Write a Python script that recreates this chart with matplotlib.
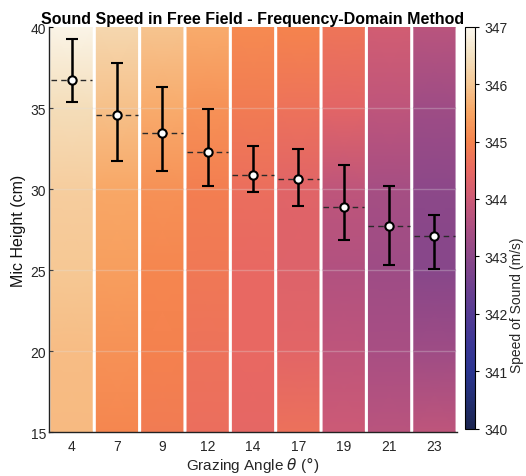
import numpy as np
import matplotlib
matplotlib.use("Agg")
import matplotlib.pyplot as plt
from matplotlib.colors import LinearSegmentedColormap

plt.rcParams['font.family'] = ['Liberation Sans', 'DejaVu Sans']

# grazing angles (deg) and mic height estimates (cm)
angles = [4, 7, 9, 12, 14, 17, 19, 21, 23]
height_mean = [36.73, 34.57, 33.44, 32.28, 30.86, 30.62, 28.91, 27.74, 27.10]
height_upper = [39.24, 37.78, 36.32, 34.94, 32.67, 32.45, 31.50, 30.17, 28.40]
height_lower = [35.39, 31.73, 31.11, 30.19, 29.80, 28.95, 26.87, 25.33, 25.06]

# speed of sound profile per angle, sampled at these heights
profile_heights = [15, 20, 25, 30, 35, 40]
c_4 = [345.80, 345.85, 346.00, 346.10, 346.40, 346.90]
c_7 = [345.05, 345.20, 345.40, 345.55, 345.90, 346.30]
c_9 = [344.85, 344.95, 345.05, 345.20, 345.60, 345.95]
c_12 = [344.60, 344.70, 344.80, 344.90, 345.20, 345.60]
c_14 = [344.45, 344.50, 344.50, 344.60, 344.85, 345.10]
c_17 = [344.65, 344.40, 344.30, 344.35, 344.70, 345.00]
c_19 = [344.00, 343.80, 343.60, 343.80, 344.40, 344.75]
c_21 = [343.70, 343.45, 343.30, 343.40, 343.80, 344.10]
c_23 = [343.80, 343.30, 342.90, 343.00, 343.30, 343.70]
profiles = [c_4, c_7, c_9, c_12, c_14, c_17, c_19, c_21, c_23]

cmap_colors = ['#1b2550', '#232f72', '#2b3591', '#3d3896', '#553c94', '#70418f',
               '#8c4889', '#ab4f82', '#cc5a76', '#e86862', '#f5834d', '#f8a462',
               '#f6c793', '#f4e1c0', '#fbf8ef']
cmap = LinearSegmentedColormap.from_list('sound', cmap_colors)
vmin, vmax = 340, 347

fig = plt.figure(figsize=(5.26, 4.77), dpi=100)
ax = fig.add_axes([0.093, 0.092, 0.776, 0.849])
cax = fig.add_axes([0.884, 0.099, 0.019, 0.843])

half_w = 0.455
for i, prof in enumerate(profiles):
    xc = i + 1
    X, Y = np.meshgrid([xc - half_w, xc + half_w], profile_heights)
    C = np.column_stack([prof, prof])
    mesh = ax.pcolormesh(X, Y, C, cmap=cmap, vmin=vmin, vmax=vmax,
                         shading='gouraud', zorder=1)

for yv in [20, 25, 30, 35]:
    ax.axhline(yv, color='#e0e0e0', lw=1.0, alpha=0.3, zorder=2)

xs = np.arange(1, len(angles) + 1)
mean = np.array(height_mean)
yerr = [mean - np.array(height_lower), np.array(height_upper) - mean]
for xc, m in zip(xs, mean):
    ax.plot([xc - half_w, xc + half_w], [m, m], ls=(0, (4, 3)), color='#2a2a2a',
            lw=1.0, zorder=3)
ax.errorbar(xs, mean, yerr=yerr, fmt='o', color='black', ecolor='black',
            elinewidth=1.8, capsize=4, capthick=1.8, markersize=6,
            markerfacecolor='white', markeredgecolor='black',
            markeredgewidth=1.5, zorder=4)

ax.set_xlim(0.5, 9.5)
ax.set_ylim(15, 40)
ax.set_xticks(xs)
ax.set_xticklabels([str(a) for a in angles])
ax.set_yticks([15, 20, 25, 30, 35, 40])
ax.tick_params(axis='x', length=0, labelsize=10, labelcolor='#262626', pad=5)
ax.tick_params(axis='y', direction='in', length=3, labelsize=10,
               labelcolor='#262626', pad=2)
for s in ['top', 'right']:
    ax.spines[s].set_visible(False)
for s in ['left', 'bottom']:
    ax.spines[s].set_linewidth(1.0)
    ax.spines[s].set_color('#222222')

ax.set_xlabel(r'Grazing Angle $\theta$ ($\degree$)', fontsize=11, color='#262626',
              labelpad=1)
ax.set_ylabel('Mic Height (cm)', fontsize=11.5, color='#111111', labelpad=3)
ax.set_title('Sound Speed in Free Field - Frequency-Domain Method',
             fontsize=11.5, fontweight='bold', pad=3)

cb = fig.colorbar(mesh, cax=cax)
cb.set_ticks(range(340, 348))
cb.outline.set_linewidth(0.8)
cax.tick_params(labelsize=10, labelcolor='#262626', length=3, width=0.8)
cax.set_ylabel('Speed of Sound (m/s)', fontsize=10, color='#262626')
cax.yaxis.set_label_coords(4.5, 0.31)

fig.savefig('out.png', dpi=100)
